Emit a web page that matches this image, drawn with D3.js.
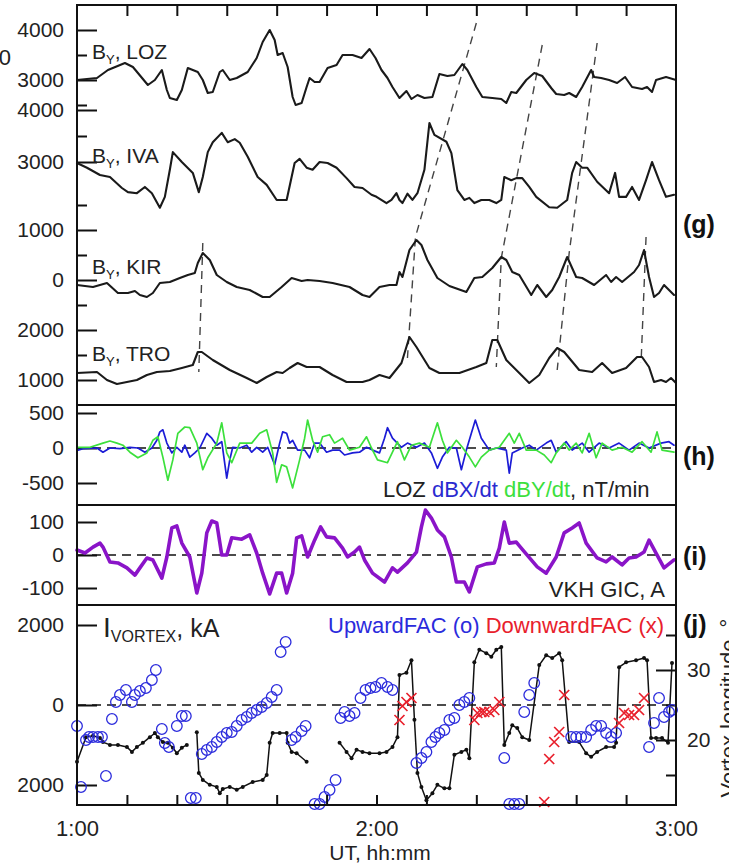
<!DOCTYPE html>
<html><head><meta charset="utf-8">
<script src="https://cdn.jsdelivr.net/npm/d3@7"></script>
<style>
html,body{margin:0;padding:0;background:#fff;}
svg{display:block;font-family:"Liberation Sans",Arial,Helvetica,sans-serif;}
</style></head><body>
<svg id="chart" width="729" height="864"></svg>
<script>
// ---------- DATA (minutes after 1:00 UT, value) ----------
const timeTicks = [0,10,20,30,40,50,60,70,80,90,100,110,120];
const timeLabelPos = [0,60,120];
const timeLabels = ["1:00","2:00","3:00"];

const byLOZ = [[0,3000],[4,3040],[6.2,3200],[9.6,3340],[11.2,3260],[14.2,2900],[15.6,3000],[17,3200],[18,2800],[18.6,2640],[20,2600],[21,2800],[22.2,3240],[23.2,3200],[24.2,3160],[25.2,3000],[26.2,2740],[27.2,2760],[28.6,3160],[29.2,3200],[30.6,3000],[32,3040],[34.2,3160],[36,3440],[37.2,3760],[38.6,4000],[39.6,3800],[40.2,3500],[41.2,3540],[42.2,3260],[43.2,2660],[43.8,2500],[45,2540],[46,2860],[46.6,3040],[47.6,2960],[48.6,2960],[50.2,3240],[52,3300],[53.2,3500],[55.2,3500],[57,3440],[58.6,3620],[59.8,3440],[61,3200],[62.2,3040],[63.2,2860],[64.6,2640],[66,2780],[67,2620],[68.2,2700],[69.6,2640],[71.2,2660],[72.6,3120],[74.2,3080],[75.6,3100],[77.2,3320],[78.2,3200],[80,2860],[81.2,2660],[83.2,2640],[85,2620],[86,2540],[87,2760],[88,2740],[90,3000],[91.6,3140],[93.2,3080],[95,2840],[96,2720],[97.6,2700],[98.6,2740],[100,2660],[101.2,2860],[103,3200],[103.6,3060],[105,3040],[106.6,3000],[108.2,2940],[109.8,3060],[111.2,2860],[113.2,2820],[114.2,2860],[115.2,2760],[116,3000],[118,3060],[120,3000]];

const byIVA = [[0,2980],[2,2890],[4.6,2750],[6.6,2710],[9,2500],[10.2,2420],[12,2400],[13.6,2520],[15,2400],[16.6,2120],[17.6,2330],[18.6,2850],[19.2,3190],[21,3000],[23.2,2790],[24.4,2420],[25.2,2710],[26.2,3190],[27.2,3380],[29,3560],[30.2,3380],[31.6,3440],[32.6,3370],[34.2,3100],[36.2,2710],[38,2560],[40,2270],[42,2270],[43.6,2980],[44.6,3060],[46,2890],[47.2,2850],[48.6,3000],[50.2,2980],[52,2890],[54,2690],[55.6,2520],[57.2,2500],[59,2370],[60,2330],[62,2210],[63,2270],[64,2400],[64.6,2270],[65.2,2210],[66.2,2390],[67.2,2270],[68.2,2400],[69.6,2850],[70.6,3750],[71.6,3520],[74,3390],[75,3170],[76.2,2460],[77.6,2270],[78.6,2310],[79.6,2210],[81,2270],[82.6,2270],[84,2210],[85,2270],[85.6,2710],[87,2650],[88,2690],[89.2,2690],[90.6,2520],[92,2330],[94.6,2130],[96.2,2120],[98.2,2270],[99.2,2790],[100,3000],[101.2,2890],[102.2,2890],[104.2,2620],[106.6,2400],[107.8,2790],[108.6,2330],[110,2330],[111.2,2520],[112.6,2270],[114,2650],[115.2,3000],[116.6,2650],[118,2330],[119.6,2370]];

const byKIR = [[0,-100],[3.2,-140],[4.6,-100],[6,-60],[8.2,-260],[10.2,-260],[11.6,-220],[12.6,-300],[14,-340],[15.2,-260],[16.6,-60],[18.6,-40],[20.6,40],[22.2,100],[23.6,140],[24.2,340],[25.2,540],[26.6,400],[28,100],[30,-40],[32,-140],[34.6,-200],[37.2,-340],[38.6,-340],[41,-140],[43,40],[45,-20],[46.2,0],[48.6,-20],[51.2,-60],[54.6,-140],[57.2,-300],[58.6,-340],[60.6,-140],[62.6,-100],[64,-100],[64.6,160],[65.2,60],[66.6,600],[68,800],[69,700],[70.2,400],[72.2,40],[74.6,-120],[78,-240],[79.6,40],[81.2,60],[83.2,240],[85,460],[86,400],[87.2,160],[88.6,100],[91,-300],[92.2,-100],[94,-340],[95.2,-200],[96.6,60],[98.2,460],[100,60],[101.2,40],[103.6,-100],[106,100],[107,-40],[108,60],[109.2,-40],[111.6,160],[112.6,300],[113.6,600],[114.6,60],[115.6,-340],[116.6,-260],[117.6,-100],[119.6,-300]];

const byTRO = [[0,1140],[4,1160],[6,1000],[8,920],[10,960],[12,1000],[14,1100],[16,1160],[18.6,1180],[21,1240],[23.2,1300],[24.2,1560],[25,1560],[27.2,1400],[30.6,1200],[34,1040],[36,940],[38,1060],[40,1160],[41.2,1140],[42.6,1240],[44.2,1340],[46,1260],[48.6,1260],[51.2,1100],[54,960],[57.2,960],[58.6,1000],[60.6,1100],[62.6,1040],[65,1340],[66.6,1860],[68,1660],[70.6,1240],[72.6,1140],[76.6,1140],[80,1260],[82,1340],[83.2,1800],[84.2,1800],[86,1400],[88.6,1140],[90.6,940],[92.6,1100],[94.6,1440],[96.2,1640],[97.6,1560],[100.6,1200],[103.2,1160],[105.2,1340],[107.2,1140],[110,1240],[112.2,1460],[113.2,1460],[114.6,1260],[115.6,960],[117,1000],[118,960],[119,1040],[120,940]];

// dashed guides linking peaks: [minute, station, value]
const guideA = [[80,"LOZ",4140],[67.8,"KIR",860],[66.2,"TRO",1440]];
const guideB = [[93.2,"LOZ",3700],[85,"KIR",440],[84,"TRO",1260]];
const guideC = [[104.2,"LOZ",3740],[98.6,"KIR",540],[96.2,"TRO",1200]];
const guideD = [[114,"KIR",860],[113,"TRO",1340]];
const guideE = [[25.2,"KIR",740],[24.4,"TRO",1160]];

const dBXdt = [[0.2,-30],[1.2,-10],[4,0],[5.2,-60],[6.6,0],[8.6,-10],[10.6,10],[12.2,0],[13.6,-60],[15,0],[16,110],[16.6,230],[17.2,260],[18,70],[19,-70],[20,10],[21,-60],[21.6,40],[22.6,-130],[23.6,-70],[24.6,0],[26,210],[27,140],[28,40],[29,90],[30,-430],[30.6,-170],[31.2,10],[32.6,0],[34,40],[35,-60],[36,10],[37.2,-60],[38.2,10],[39.6,-240],[40.6,70],[41.2,230],[42,210],[42.6,70],[43.2,110],[44.2,-30],[45.6,-30],[46.6,-140],[47.6,70],[48.6,70],[50,-60],[51.2,-30],[52.6,-30],[53.6,-100],[55.2,-70],[56.6,-60],[58,10],[59.2,-30],[60.6,-70],[61.6,140],[62.2,290],[63.2,140],[65,10],[66.2,70],[68,10],[69.6,70],[71,-70],[72.2,-290],[73.2,-130],[74.6,10],[76,0],[77,-310],[78,-30],[79,210],[79.8,400],[81,140],[82.6,-30],[84,0],[86,-30],[86.6,-360],[87.2,-70],[89.2,0],[90.6,40],[92,-30],[94,70],[95,110],[96,-60],[98,90],[99.2,-30],[101.2,70],[102.6,-60],[104.6,70],[106.6,0],[108.6,70],[110.6,-30],[112.6,70],[114.6,0],[117,70],[118.6,90],[119.6,40]];

const dBYdt = [[0.2,10],[2.6,10],[5.2,70],[6.6,100],[8,70],[9.2,40],[10.6,-60],[12.2,-140],[14,-70],[15.2,110],[16.2,160],[17.2,-130],[18.2,-460],[19.2,-170],[20.2,210],[21.6,300],[22.6,290],[24,70],[25.2,-310],[26.2,-140],[28,70],[29,360],[30,-70],[31,-210],[32.6,70],[35,70],[36.6,210],[38,260],[39.2,-70],[40,-490],[41,-240],[42,-270],[43.2,-570],[44.6,-170],[45.6,140],[46.2,400],[47.2,110],[48.2,-60],[49.2,160],[50.6,190],[51.6,70],[53.2,140],[54.6,-30],[56.6,10],[58,160],[59,0],[60.2,-170],[62.2,-210],[64.2,90],[65.6,-170],[67,40],[68.6,70],[70.6,10],[72.2,360],[73.2,110],[74.2,-70],[76,110],[77.2,10],[78.6,-130],[79.8,-270],[81,-130],[82.6,-30],[84.6,10],[86.6,210],[87.6,70],[88.6,210],[90,-30],[92,-30],[93.6,-100],[95,-210],[96,-70],[97.6,70],[98.6,-30],[100,70],[101.2,-70],[102.6,210],[104,-140],[105.2,70],[107.2,-30],[109.2,10],[111.2,-60],[113.2,90],[115,-60],[116.2,230],[117.2,-30],[119.6,-60]];

const gicVKH = [[0,15],[1.6,6],[3.2,24],[4.6,36],[5.2,24],[6.6,-21],[8.2,-24],[10,-39],[11.6,-61],[12.6,-39],[14,-9],[15.2,-15],[17,-70],[18,-6],[19,82],[20,88],[21,36],[22.6,-6],[24,-115],[25,-55],[26,67],[27,103],[28,97],[29,0],[30,0],[31,52],[33,48],[34.6,61],[36,6],[37.2,-55],[38.6,-118],[40,-55],[41,-55],[42,-115],[43.2,-55],[44,52],[45,58],[46.2,-6],[47.6,45],[48.8,85],[50,55],[51.6,52],[53.2,21],[54.2,-6],[55.6,9],[56.6,24],[57.6,-15],[59.2,-55],[61.6,-82],[63.2,-39],[64.2,-52],[66.2,-24],[68,9],[69,85],[69.8,136],[71,112],[72.2,76],[73.6,55],[75,-6],[76,-82],[77.6,-82],[78.6,-112],[80.2,-36],[82,-27],[83.6,-24],[84.6,21],[85.6,100],[86.6,36],[88,39],[89,21],[91,-15],[92.2,-36],[94,-55],[96,-6],[97.6,67],[99.2,82],[100.6,97],[102,36],[104.2,-9],[106,-21],[107.2,-6],[109.2,-30],[110.6,-9],[112,-6],[113.6,9],[114.6,45],[116,6],[117.6,-39],[119.6,-15]];

// vortex longitude (deg, right axis); null = gap
const vortexLon = [[0,16.9],[1.8,20.4],[3.2,20.6],[4.6,20.3],[5.2,19.7],[6.6,19.3],[8.2,19.3],[10,19.0],[11,18.3],[12,19.0],[13.2,19.6],[14.6,20.4],[15.6,21.0],[16.2,20.4],[17.2,19.7],[18.2,19.6],[19.2,18.9],[20,18.1],[21,18.9],[22,19.3],null,
[24,21.1],[24.4,15.3],[25.2,14.3],[26.6,13.6],[28,13.3],[28.6,12.4],[29.2,13.0],[30.6,13.3],[32,12.9],[33.2,13.3],[35.2,14.0],[37.2,14.3],[38,15.0],[38.6,19.6],[39.2,21.0],[40.6,21.0],[42,21.0],[42.2,19.6],[43,18.3],[44,18.1],[46,16.9],null,
[52.6,19.6],[54,18.3],[55,17.4],[56,18.6],[57.2,18.3],[58.6,18.1],[60.6,18.1],[62,18.3],[63.2,19.0],[64.2,20.4],[64.6,29.3],[66,29.6],[67,31.4],[67.6,22.9],[68.2,15.3],[69,13.3],[70,11.4],[71.2,12.4],[72.2,13.6],[73.6,13.1],[74.6,13.1],[75.6,17.9],[77,18.3],[78,18.6],[78.6,17.4],[79.6,31.1],[80.6,32.9],[82,32.4],[83,31.9],[84,32.9],[85,33.3],[85.6,19.3],[86.6,21.0],[87.2,22.1],[88.2,21.7],[89.2,20.4],[90.6,20.0],[92.6,30.7],[94,32.1],[95.2,31.7],[96.6,32.4],[97.2,31.4],[98.6,19.7],[100.6,19.7],[102,18.1],[103,17.6],[104.2,18.3],[106,19.0],[107.6,19.0],[108,19.6],[108.6,30.4],[110,31.1],[112,31.4],[113.6,31.7],[114.2,31.4],[115,20.3],[116,20.3],[117.2,20.3],[118.4,19.6],[119.2,31.0]];

// vortex current, kA (left axis)
const upwardFAC = [[0,-525],[0.8,-2050],[1.8,-875],[2.4,-800],[3.2,-800],[4.2,-800],[5,-800],[5.8,-1775],[7,-350],[7.8,75],[8.6,250],[9.8,375],[11,75],[11.6,250],[12.6,350],[13.8,425],[15,625],[15.8,875],[17,-600],[17.6,-950],[18.4,-1050],[20,-525],[21,-275],[21.8,-275],[22.8,-2325],[23.8,-2325],[25,-1225],[26,-1125],[27,-1050],[28,-925],[29,-800],[30,-700],[31,-675],[32,-525],[33,-375],[34,-300],[35,-200],[36,-125],[37,-50],[38,50],[39,200],[40,375],[40.8,1325],[41.8,1575],[43,-875],[43.8,-800],[45,-650],[45.8,-525],[47.6,-2475],[48.6,-2475],[49.6,-2300],[50.6,-2125],[51.8,-1875],[52.8,-325],[53.6,-175],[54.6,-275],[55.6,-200],[56.8,175],[57.8,375],[58.8,425],[59.8,450],[61,550],[62.2,450],[63.2,375],[68,-1450],[69,-1325],[70,-1175],[71,-925],[71.8,-800],[72.6,-700],[73.6,-625],[74.6,-375],[75.6,-325],[76.6,0],[77.6,75],[78.6,175],[85.6,-1325],[86.6,-2475],[87.6,-2475],[88.6,-2475],[89.6,-175],[90.6,250],[91.6,550],[99,-800],[100,-800],[101,-800],[102,-800],[103,-625],[104,-525],[105,-525],[106,-700],[107,-800],[108,-700],[114.6,-1050],[115.6,-450],[116.6,175],[117.6,-300],[118.6,-175],[119.2,-125]];

const downwardFAC = [[64.6,-375],[65.2,-25],[66,75],[67,175],[79.6,-375],[80.2,-200],[81,-175],[81.6,-175],[82.6,-175],[83.6,-125],[84.6,75],[93.6,-2425],[94.6,-1350],[95.6,-925],[96.6,-675],[97.6,250],[108.6,-450],[109.6,-200],[110.6,-250],[111.6,-250],[112.6,-125],[113.6,175]];

// axis tick values
const ticksLOZ = [3000,4000], minorLOZ = [2500,3500];
const ticksIVA = [3000,4000], minorIVA = [3500];
const ticksKIR = [0,1000], minorKIR = [-500,500,1500];
const ticksTRO = [1000,2000], minorTRO = [1500];
const ticksH = [-500,0,500];
const ticksI = [-100,0,100];
const ticksJ = [-2000,0,2000];
const ticksLon = [20,30], minorLon = [15,25,35];

// ---------- LAYOUT ----------
const svg = d3.select("#chart");
const L = 77, R = 676;
const FS = 21, FA = 22;
const x = d3.scaleLinear().domain([0,120]).range([L,R]);

const yLOZ = d3.scaleLinear().domain([3000,4000]).range([80,30]);
const yIVA = d3.scaleLinear().domain([3000,4000]).range([162,110]);
const yKIR = d3.scaleLinear().domain([0,1000]).range([280,230]);
const yTRO = d3.scaleLinear().domain([1000,2000]).range([380,330]);
const yH = d3.scaleLinear().domain([-500,500]).range([483,413]);
const yI = d3.scaleLinear().domain([-100,100]).range([588,522]);
const yJ = d3.scaleLinear().domain([-2000,2000]).range([785,625]);
const yLon = d3.scaleLinear().domain([20,30]).range([740,670]);
const stationY = {LOZ:yLOZ, IVA:yIVA, KIR:yKIR, TRO:yTRO};

function styleAxis(g){
  g.select(".domain").remove();
  g.attr("font-size", FS).attr("font-family", null);
  g.selectAll("line").attr("stroke","#111").attr("stroke-width",2);
  g.selectAll("text").attr("fill","#222");
}
function leftAxis(y, majors, minors, fmt){
  const g = svg.append("g").attr("transform",`translate(${L},0)`)
    .call(d3.axisLeft(y).tickValues(majors).tickSize(-20).tickPadding(13).tickFormat(fmt || (d=>String(d))));
  styleAxis(g);
  if (minors && minors.length){
    const m = svg.append("g").attr("transform",`translate(${L},0)`)
      .call(d3.axisLeft(y).tickValues(minors).tickSize(-10).tickFormat(""));
    styleAxis(m);
  }
}
function trace(data, y, color, w, dash){
  const p = svg.append("path").datum(data)
    .attr("d", d3.line().defined(d=>d!==null).x(d=>x(d[0])).y(d=>y(d[1])))
    .attr("fill","none").attr("stroke",color).attr("stroke-width",w)
    .attr("stroke-linejoin","round").attr("stroke-linecap","round");
  if (dash) p.attr("stroke-dasharray",dash);
  return p;
}
function zeroLine(y){
  svg.append("line").attr("x1",x(0)).attr("x2",x(120)).attr("y1",y(0)).attr("y2",y(0))
    .attr("stroke","#111").attr("stroke-width",1.6).attr("stroke-dasharray","9,6");
}

// ---------- PANEL g ----------
leftAxis(yLOZ, ticksLOZ, minorLOZ);
leftAxis(yIVA, ticksIVA, minorIVA);
leftAxis(yKIR, ticksKIR, minorKIR);
leftAxis(yTRO, ticksTRO, minorTRO);

[guideA,guideB,guideC,guideD,guideE].forEach(gd=>{
  svg.append("path").datum(gd)
    .attr("d", d3.line().x(d=>x(d[0])).y(d=>stationY[d[1]](d[2])))
    .attr("fill","none").attr("stroke","#444").attr("stroke-width",1.4)
    .attr("stroke-dasharray","8,6");
});
trace(byLOZ, yLOZ, "#1a1a1a", 2.1);
trace(byIVA, yIVA, "#1a1a1a", 2.1);
trace(byKIR, yKIR, "#1a1a1a", 2.1);
trace(byTRO, yTRO, "#1a1a1a", 2.1);

function byLabel(yb, name){
  const t = svg.append("text").attr("x",92).attr("y",yb).attr("font-size",FS).attr("fill","#222");
  t.append("tspan").text("B");
  t.append("tspan").attr("font-size",13).attr("dy",5).text("Y");
  t.append("tspan").attr("dy",-5).text(", " + name);
}
byLabel(59,"LOZ"); byLabel(163,"IVA"); byLabel(274,"KIR"); byLabel(361,"TRO");
svg.append("text").attr("x",11).attr("y",65).attr("text-anchor","end").attr("font-size",FA).attr("fill","#222").text("0");

// ---------- PANEL h ----------
leftAxis(yH, ticksH, null);
zeroLine(yH);
trace(dBXdt, yH, "#1c1cd6", 1.7);
trace(dBYdt, yH, "#3ce03c", 1.7);
const th = svg.append("text").attr("x",383).attr("y",497).attr("font-size",FA).attr("fill","#222");
th.append("tspan").text("LOZ ");
th.append("tspan").attr("fill","#2a2ad0").text("dBX/dt");
th.append("tspan").attr("fill","#3ce03c").text(" dBY/dt");
th.append("tspan").text(", nT/min");

// ---------- PANEL i ----------
leftAxis(yI, ticksI, null);
zeroLine(yI);
trace(gicVKH, yI, "#8a14c8", 3.6);
svg.append("text").attr("x",665).attr("y",597).attr("text-anchor","end").attr("font-size",FA).attr("fill","#222").text("VKH GIC, A");

// ---------- PANEL j ----------
leftAxis(yJ, ticksJ, null, d=>String(Math.abs(d)));
const ra = svg.append("g").attr("transform",`translate(${R},0)`)
  .call(d3.axisRight(yLon).tickValues(ticksLon).tickSize(-20).tickPadding(11).tickFormat(d=>String(d)));
styleAxis(ra);
const rm = svg.append("g").attr("transform",`translate(${R},0)`)
  .call(d3.axisRight(yLon).tickValues(minorLon).tickSize(-10).tickFormat(""));
styleAxis(rm);
zeroLine(yJ);

trace(vortexLon, yLon, "#111", 1.5);
svg.append("g").selectAll("circle").data(vortexLon.filter(d=>d!==null)).join("circle")
  .attr("cx",d=>x(d[0])).attr("cy",d=>yLon(d[1])).attr("r",2).attr("fill","#111");

svg.append("g").selectAll("circle").data(upwardFAC).join("circle")
  .attr("cx",d=>x(d[0])).attr("cy",d=>yJ(d[1])).attr("r",5.3)
  .attr("fill","none").attr("stroke","#2b2bdc").attr("stroke-width",1.3);
svg.append("g").selectAll("path").data(downwardFAC).join("path")
  .attr("transform",d=>`translate(${x(d[0])},${yJ(d[1])})`)
  .attr("d","M-5,-5L5,5M-5,5L5,-5")
  .attr("stroke","#e8202c").attr("stroke-width",1.7).attr("fill","none");

const tj = svg.append("text").attr("x",103).attr("y",637).attr("fill","#222");
tj.append("tspan").attr("font-size",28).text("I");
tj.append("tspan").attr("font-size",16).attr("dy",5).text("VORTEX");
tj.append("tspan").attr("font-size",25).attr("dy",-5).text(", kA");
const tf = svg.append("text").attr("x",328).attr("y",633).attr("font-size",FA);
tf.append("tspan").attr("fill","#2b2bdc").text("UpwardFAC (o) ");
tf.append("tspan").attr("fill","#e8202c").text("DownwardFAC (x)");

svg.append("text").attr("transform","translate(736,708) rotate(-90)").attr("text-anchor","middle")
  .attr("font-size",FA).attr("fill","#222").text("Vortex longitude, °");

// ---------- TIME AXES ----------
const topAx = svg.append("g").attr("transform","translate(0,5)")
  .call(d3.axisTop(x).tickValues(timeTicks.slice(1,-1)).tickSize(-11).tickFormat(""));
styleAxis(topAx);
const botAx = svg.append("g").attr("transform","translate(0,805)")
  .call(d3.axisBottom(x).tickValues(timeTicks.slice(1,-1)).tickSize(-10).tickFormat(""));
styleAxis(botAx);
const labAx = svg.append("g").attr("transform","translate(0,805)")
  .call(d3.axisBottom(x).tickValues(timeLabelPos).tickSize(0).tickPadding(15)
    .tickFormat((d,i)=>timeLabels[i]));
styleAxis(labAx);
labAx.attr("font-size",FA);
svg.append("text").attr("x",380).attr("y",860).attr("text-anchor","middle").attr("font-size",FS).attr("fill","#222").text("UT, hh:mm");

// ---------- FRAME ----------
const frame = svg.append("g").attr("stroke","#111").attr("stroke-width",2).attr("fill","none");
frame.append("rect").attr("x",L).attr("y",5).attr("width",R-L).attr("height",800);
[405,505,605].forEach(yy=>frame.append("line").attr("x1",L).attr("x2",R).attr("y1",yy).attr("y2",yy));

// panel letters
[["(g)",233],["(h)",465],["(i)",565],["(j)",633]].forEach(([s,yy])=>{
  svg.append("text").attr("x",683).attr("y",yy).attr("font-size",25).attr("font-weight","bold").attr("fill","#111").text(s);
});
</script></body></html>
